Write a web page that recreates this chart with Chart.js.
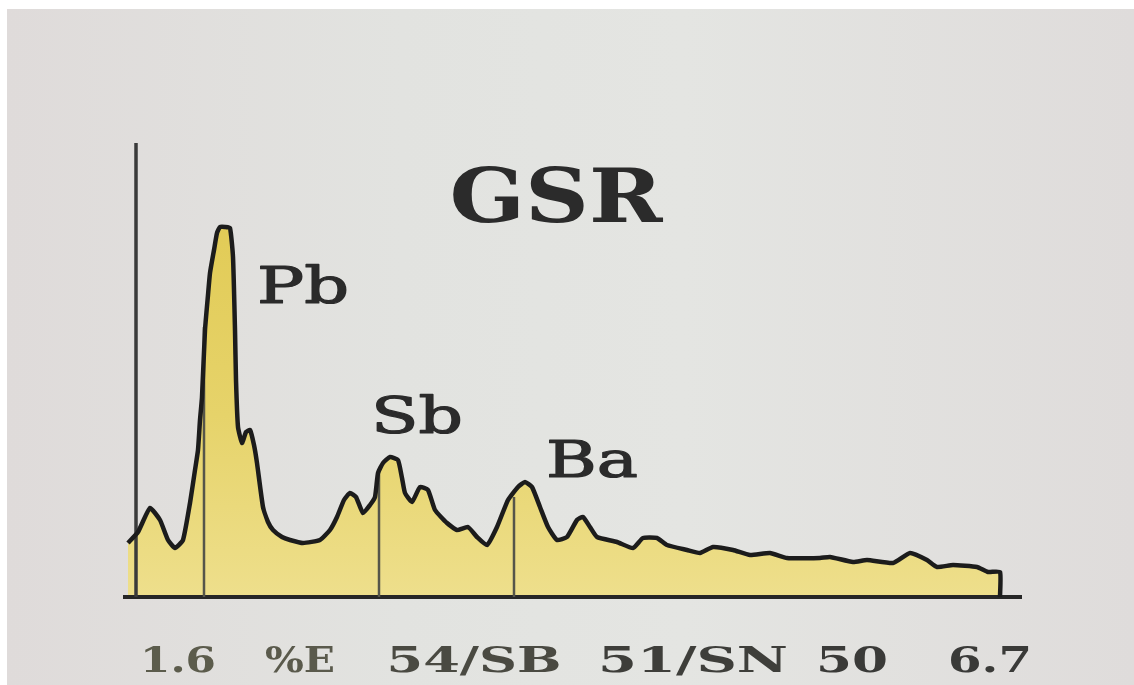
<!DOCTYPE html>
<html>
<head>
<meta charset="utf-8">
<script src="https://cdn.jsdelivr.net/npm/chart.js@4.4.1/dist/chart.umd.min.js"></script>
<style>
  html, body { margin: 0; padding: 0; background: #fff; }
  #wrap {
    width: 1134px; height: 685px; position: relative; box-sizing: border-box;
    border-top: 9px solid #fff; border-left: 7px solid #fff;
    background: linear-gradient(90deg, #dfdbda 0%, #e2e3e0 35%, #e4e5e2 60%, #dfdcdb 100%);
  }
  #wrap canvas { position: absolute; left: -7px; top: -9px; }
</style>
</head>
<body>
<div id="wrap"><canvas id="gsr-chart" width="1134" height="685"></canvas></div>
<script>
// spectrum (channel, counts)
const channels = [0, 10, 22, 32, 40, 47, 55, 62, 67, 70, 72, 74, 77, 80, 82, 86, 89, 92, 97, 102,
  105, 107, 108, 110, 114, 118, 122, 126, 129, 135, 140, 145, 154, 162, 175, 192, 202, 209, 216, 222,
  228, 235, 242, 247, 250, 255, 262, 270, 274, 277, 284, 292, 300, 307, 319, 329, 340, 349, 359, 369,
  380, 390, 397, 404, 412, 420, 429, 439, 449, 455, 462, 469, 489, 505, 515, 529, 539, 559, 572, 585,
  605, 622, 642, 659, 692, 702, 725, 739, 765, 782, 799, 809, 825, 849, 860, 872, 872];
const counts = [54, 65, 89, 77, 57, 49, 57, 94, 127, 147, 177, 200, 267, 302, 324, 347, 364, 370, 370, 369,
  340, 267, 217, 170, 154, 165, 167, 152, 134, 90, 75, 67, 60, 57, 54, 57, 67, 80, 97, 104,
  100, 84, 92, 100, 124, 134, 140, 137, 119, 104, 95, 110, 107, 87, 74, 67, 70, 60, 52, 70,
  97, 110, 115, 110, 90, 70, 57, 60, 77, 80, 70, 60, 55, 49, 59, 59, 52, 47, 44, 50,
  47, 42, 44, 39, 39, 40, 35, 37, 34, 44, 37, 30, 32, 30, 25, 25, 0];

const peakNames = ['Pb', 'Sb', 'Ba'];
const peakChannels = [76, 251, 386];
const peakHeights = [270, 126, 100];

const titleText = 'GSR';
const footerTexts = ['1.6', '%E', '54/SB', '51/SN', '50', '6.7'];

// draw text squeezed/stretched to a given width (photo is wider than the fonts)
function wideText(ctx, txt, cx, base, w, font, color, thick) {
    ctx.save();
    ctx.font = font;
    let m = ctx.measureText(txt).width;
    ctx.translate(cx, base);
    ctx.scale(w / m, 1);
    ctx.textAlign = 'center';
    ctx.textBaseline = 'alphabetic';
    ctx.fillStyle = color;
    ctx.fillText(txt, 0, 0);
    if (thick) {
        ctx.strokeStyle = color;
        ctx.lineWidth = thick;
        ctx.lineJoin = 'round';
        ctx.strokeText(txt, 0, 0);
    }
    ctx.restore();
}

const decor = {
    id: 'decor',
    beforeDatasetsDraw(chart) {
        const { ctx, chartArea, scales } = chart;
        ctx.save();
        // axes
        ctx.strokeStyle = '#262626';
        ctx.lineWidth = 4;
        ctx.beginPath();
        ctx.moveTo(chartArea.left, chartArea.bottom);
        ctx.lineTo(chartArea.right, chartArea.bottom);
        ctx.stroke();
        ctx.lineWidth = 3.5;
        ctx.strokeStyle = '#3a3a3a';
        let ax = scales.x.getPixelForValue(8);
        ctx.beginPath();
        ctx.moveTo(ax, chartArea.top);
        ctx.lineTo(ax, chartArea.bottom);
        ctx.stroke();
        ctx.restore();
    },
    afterDraw(chart) {
        const ctx = chart.ctx;
        wideText(ctx, titleText, 556, 222, 213, 'bold 75px "DejaVu Serif"', '#2b2b2b');
        let labelPos = [[303, 303], [417, 433], [592, 477]];
        peakNames.forEach((n, i) => {
            wideText(ctx, n, labelPos[i][0], labelPos[i][1], 92, '50px "DejaVu Serif"', '#2b2b2b', 1.2);
        });
        let foot = [[178, 76], [300, 70], [474, 175], [693, 190], [852, 72], [990, 84]];
        let footCol = ['#5c5c4c', '#5a5a4c', '#4a4a42', '#3e3e3a', '#3a3a38', '#3a3a38'];
        footerTexts.forEach((t, i) => {
            wideText(ctx, t, foot[i][0], 672, foot[i][1], 'bold 36px "DejaVu Serif"', footCol[i]);
        });
    }
};

let ctx = document.getElementById('gsr-chart');

let spectrum = {
    data: channels.map((c, i) => ({ x: c, y: counts[i] })),
    borderColor: '#1c1c1c',
    borderWidth: 4.5,
    pointRadius: 0,
    tension: 0.15,
    fill: 'origin',
    backgroundColor: function(context) {
        const area = context.chart.chartArea;
        if (!area) return '#e8d66e';
        let g = context.chart.ctx.createLinearGradient(0, area.top, 0, area.bottom);
        g.addColorStop(0, '#e0c84e');
        g.addColorStop(0.6, '#e6d36a');
        g.addColorStop(1, '#eedf8c');
        return g;
    },
    order: 0
};

let markers = peakChannels.map((c, i) => ({
    data: [{ x: c, y: 0 }, { x: c, y: peakHeights[i] }],
    borderColor: '#55554a',
    borderWidth: 2.5,
    pointRadius: 0,
    fill: false,
    order: 1
}));

new Chart(ctx, {
    type: 'line',
    data: { datasets: [spectrum].concat(markers) },
    options: {
        responsive: false,
        animation: false,
        layout: { padding: { left: 123, right: 112, top: 143, bottom: 88 } },
        scales: {
            x: { type: 'linear', min: -5, max: 894, display: false },
            y: { min: 0, max: 454, display: false }
        },
        plugins: {
            legend: { display: false },
            tooltip: { enabled: false },
            filler: { drawTime: 'beforeDatasetsDraw' }
        }
    },
    plugins: [decor]
});
</script>
</body>
</html>
